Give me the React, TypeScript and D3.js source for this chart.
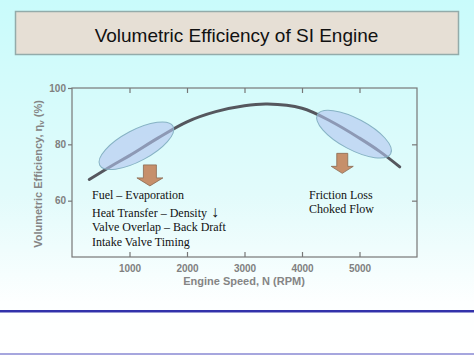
import React, { useEffect, useRef } from "react";
import * as d3 from "d3";

// engine speed (rpm) vs volumetric efficiency (%)
const rpm = [300, 700, 1000, 1500, 2000, 2500, 3000, 3400, 4000, 4500, 5000, 5350, 5700];
const efficiency = [67.5, 72.5, 76, 82.3, 88, 91.6, 93.7, 94.3, 92.8, 88.2, 82.2, 77.5, 72];

const xTicks = [1000, 2000, 3000, 4000, 5000];
const yTicks = [60, 80, 100];

const title = "Volumetric Efficiency of SI Engine";
const xLabel = "Engine Speed, N (RPM)";
const lowSpeedNotes = [
  "Fuel – Evaporation",
  "Heat Transfer – Density",
  "Valve Overlap – Back Draft",
  "Intake Valve Timing",
];
const highSpeedNotes = ["Friction Loss", "Choked Flow"];

// highlighted regions on the curve (data units)
const regionRpm = [1120, 4905];
const regionEff = [79.5, 83.6];
const arrowRpm = [1355, 4700];
const arrowEff = [72.7, 76.8];

const App = () => {
  const ref = useRef<SVGSVGElement | null>(null);

  useEffect(() => {
    const W = 474,
      H = 355;
    const svg = d3.select(ref.current);
    svg.selectAll("*").remove();

    const defs = svg.append("defs");
    const grad = defs
      .append("linearGradient")
      .attr("id", "bg")
      .attr("x1", 0)
      .attr("y1", 0)
      .attr("x2", 0)
      .attr("y2", 1);
    grad.append("stop").attr("offset", "0%").attr("stop-color", "#c9fbfb");
    grad.append("stop").attr("offset", "55%").attr("stop-color", "#e2fbfb");
    grad.append("stop").attr("offset", "85%").attr("stop-color", "#fdffff");
    grad.append("stop").attr("offset", "100%").attr("stop-color", "#ffffff");

    svg.append("rect").attr("width", W).attr("height", H).attr("fill", "url(#bg)");

    // title banner
    svg
      .append("rect")
      .attr("x", 15.5)
      .attr("y", 11.5)
      .attr("width", 443)
      .attr("height", 43)
      .attr("fill", "#e6dfd5")
      .attr("stroke", "#93abaa")
      .attr("stroke-width", 1.5);
    svg
      .append("text")
      .attr("x", 236.5)
      .attr("y", 42)
      .attr("text-anchor", "middle")
      .attr("font-family", "'Liberation Sans', Arial, sans-serif")
      .attr("font-size", 19)
      .attr("fill", "#111")
      .text(title);

    const x = d3.scaleLinear().domain([0, 6000]).range([72, 417]);
    const y = d3.scaleLinear().domain([40, 100]).range([257, 88]);

    const axisColor = "#777";
    const g = svg.append("g");

    // frame
    g.append("rect")
      .attr("x", x(0))
      .attr("y", y(100))
      .attr("width", x(6000) - x(0))
      .attr("height", y(40) - y(100))
      .attr("fill", "none")
      .attr("stroke", axisColor)
      .attr("stroke-width", 1.2);

    const styleAxis = (sel) => {
      sel.select(".domain").remove();
      sel.selectAll("line").attr("stroke", axisColor).attr("stroke-width", 1.2);
      sel
        .selectAll("text")
        .attr("fill", "#808080")
        .attr("font-family", "'Liberation Sans', Arial, sans-serif")
        .attr("font-weight", "bold")
        .attr("font-size", 10);
    };

    g.append("g")
      .attr("transform", `translate(0, ${y(40)})`)
      .call(d3.axisBottom(x).tickValues(xTicks).tickSize(-5).tickPadding(8).tickFormat(d3.format("d")))
      .call(styleAxis);
    g.append("g")
      .attr("transform", `translate(0, ${y(100)})`)
      .call(d3.axisTop(x).tickValues(xTicks).tickSize(-5).tickFormat(() => ""))
      .call(styleAxis);
    g.append("g")
      .attr("transform", `translate(${x(0)}, 0)`)
      .call(d3.axisLeft(y).tickValues(yTicks).tickSize(4).tickPadding(2))
      .call(styleAxis);
    g.append("g")
      .attr("transform", `translate(${x(6000)}, 0)`)
      .call(d3.axisRight(y).tickValues(yTicks.filter((v) => v < 100)).tickSize(-5).tickFormat(() => ""))
      .call(styleAxis);

    // axis titles
    g.append("text")
      .attr("x", 244)
      .attr("y", 285)
      .attr("text-anchor", "middle")
      .attr("font-family", "'Liberation Sans', Arial, sans-serif")
      .attr("font-weight", "bold")
      .attr("font-size", 11)
      .attr("fill", "#858585")
      .text(xLabel);

    const yl = g
      .append("text")
      .attr("transform", "translate(42, 174) rotate(-90)")
      .attr("text-anchor", "middle")
      .attr("font-family", "'Liberation Sans', Arial, sans-serif")
      .attr("font-weight", "bold")
      .attr("font-size", 11)
      .attr("fill", "#858585");
    yl.append("tspan").text("Volumetric Efficiency, η");
    yl.append("tspan").attr("font-size", 8).attr("dy", 2).text("v");
    yl.append("tspan").attr("dy", -2).text(" (%)");

    // efficiency curve
    const line = d3
      .line<number>()
      .x((d, i) => x(rpm[i]))
      .y((d) => y(d))
      .curve(d3.curveCatmullRom);
    g.append("path")
      .attr("d", line(efficiency))
      .attr("fill", "none")
      .attr("stroke", "#55575e")
      .attr("stroke-width", 3)
      .attr("stroke-linecap", "round");

    // highlighted regions
    const angles = [-28, 28];
    regionRpm.forEach((r, i) => {
      g.append("ellipse")
        .attr("cx", 0)
        .attr("cy", 0)
        .attr("rx", 41.5)
        .attr("ry", 15.5)
        .attr("transform", `translate(${x(r)}, ${y(regionEff[i])}) rotate(${angles[i]})`)
        .attr("fill", "rgba(178, 196, 240, 0.6)")
        .attr("stroke", "#86b2c4")
        .attr("stroke-width", 1);
    });

    // block arrows
    const arrowSizes = [
      { hw: 13, sw: 6.5, sh: 13, h: 21 },
      { hw: 11, sw: 5.5, sh: 13, h: 20 },
    ];
    arrowRpm.forEach((r, i) => {
      const cx = x(r),
        top = y(arrowEff[i]);
      const s = arrowSizes[i];
      const pts = [
        [cx - s.sw, top],
        [cx + s.sw, top],
        [cx + s.sw, top + s.sh],
        [cx + s.hw, top + s.sh],
        [cx, top + s.h],
        [cx - s.hw, top + s.sh],
        [cx - s.sw, top + s.sh],
      ];
      g.append("polygon")
        .attr("points", pts.map((p) => p.join(",")).join(" "))
        .attr("fill", "#c68f6b")
        .attr("stroke", "#8a6a52")
        .attr("stroke-width", 0.8);
    });

    // annotation text
    const serif = "'Liberation Serif', 'Times New Roman', serif";
    const lowY = [199, 216.5, 231, 246];
    lowSpeedNotes.forEach((t, i) => {
      const txt = g
        .append("text")
        .attr("x", 92)
        .attr("y", lowY[i])
        .attr("font-family", serif)
        .attr("font-size", 12)
        .attr("fill", "#111")
        .text(t);
      if (i === 1) {
        txt.append("tspan").attr("font-size", 16).attr("dx", 4).text("↓");
      }
    });
    const highY = [199, 212.5];
    highSpeedNotes.forEach((t, i) => {
      g.append("text")
        .attr("x", 309)
        .attr("y", highY[i])
        .attr("font-family", serif)
        .attr("font-size", 12)
        .attr("fill", "#111")
        .text(t);
    });

    // footer rule
    svg
      .append("rect")
      .attr("x", 0)
      .attr("y", 310)
      .attr("width", W)
      .attr("height", 2.5)
      .attr("fill", "#3232aa");
    svg
      .append("rect")
      .attr("x", 0)
      .attr("y", 353)
      .attr("width", W)
      .attr("height", 2)
      .attr("fill", "#a6a6de");
  }, []);

  return (
    <svg
      ref={ref}
      width={474}
      height={355}
      style={{ position: "absolute", left: 0, top: 0, display: "block" }}
    />
  );
};

export default App;
